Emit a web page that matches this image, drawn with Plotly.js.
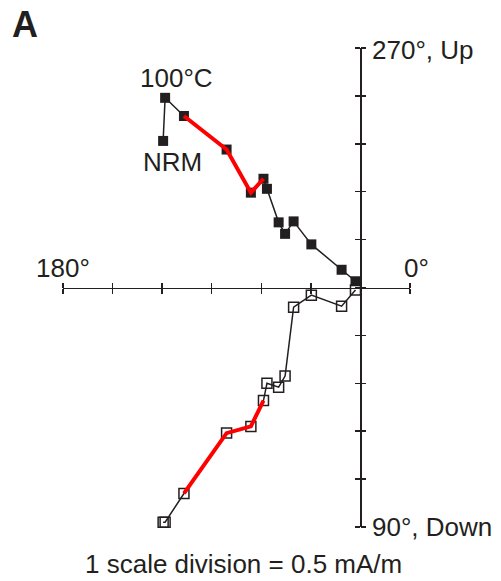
<!DOCTYPE html>
<html>
<head>
<meta charset="utf-8">
<script src="https://cdn.plot.ly/plotly-3.0.1.min.js"></script>
<style>html,body{margin:0;padding:0;background:#fff;}#chart{width:501px;height:581px;}</style>
</head>
<body>
<div id="chart"></div>
<script>
// Demagnetization steps (mA/m); first = NRM, second = 100°C
const north = [-1.99, -1.97, -1.78, -1.35, -1.105, -0.978, -0.943, -0.825, -0.76, -0.674, -0.495, -0.19, -0.05];
const west  = [1.53, 1.98, 1.79, 1.44, 0.99, 1.135, 1.03, 0.68, 0.56, 0.69, 0.45, 0.185, 0.065];
const down  = [2.45, 2.45, 2.15, 1.52, 1.45, 1.18, 1.00, 1.04, 0.925, 0.205, 0.08, 0.195, 0.025];
const fitStart = 2, fitEnd = 5;
const xRange = [-3.0, 0.5];
const yRange = [-2.5, 2.5];
const tickStep = 0.5;
const axisLabels = {left: '180°', right: '0°', top: '270°, Up', bottom: '90°, Down'};
const stepLabels = {first: 'NRM', second: '100°C'};
const panelLabel = 'A';
const scaleNote = '1 scale division = 0.5 mA/m';

const W = 501, H = 581;
const M = {l: 63, r: 91, t: 48, b: 54};
const pw = W - M.l - M.r, ph = H - M.t - M.b;
const px = x => (x - M.l) / pw;
const py = y => (H - M.b - y) / ph;

const ink = '#231f20';
const up = north.map((n, i) => west[i]);
const dn = down.map(d => -d);
const fitN = north.slice(fitStart, fitEnd + 1);

const traces = [
  {x: north, y: up, mode: 'lines+markers', line: {color: ink, width: 1.5},
   marker: {symbol: 'square', size: 10, color: ink}, cliponaxis: false, hoverinfo: 'skip'},
  {x: north, y: dn, mode: 'lines+markers', line: {color: ink, width: 1.5},
   marker: {symbol: 'square-open', size: 10, color: ink, line: {width: 1.5, color: ink}}, cliponaxis: false, hoverinfo: 'skip'},
  {x: fitN, y: up.slice(fitStart, fitEnd + 1), mode: 'lines', line: {color: '#ff0000', width: 4}, cliponaxis: false, hoverinfo: 'skip'},
  {x: fitN, y: dn.slice(fitStart, fitEnd + 1), mode: 'lines', line: {color: '#ff0000', width: 4}, cliponaxis: false, hoverinfo: 'skip'},
  {x: [0], y: [0], xaxis: 'x2', yaxis: 'y2', mode: 'markers', marker: {opacity: 0}, hoverinfo: 'skip', showlegend: false}
];

const xZeroPos = (0 - yRange[0]) / (yRange[1] - yRange[0]);
const yZeroPos = (0 - xRange[0]) / (xRange[1] - xRange[0]);

const axCommon = {showgrid: false, zeroline: false, ticklen: 5, tickwidth: 1.5, tickcolor: ink,
  tick0: 0, dtick: tickStep, showticklabels: false, fixedrange: true, anchor: 'free'};

const layout = {
  width: W, height: H, margin: M, showlegend: false,
  paper_bgcolor: '#fff', plot_bgcolor: 'rgba(0,0,0,0)',
  font: {family: 'Liberation Sans, Arial, sans-serif', color: ink, size: 26},
  xaxis: Object.assign({}, axCommon, {range: xRange, position: xZeroPos, side: 'bottom', ticks: 'outside',
    showline: true, linecolor: ink, linewidth: 1.5}),
  xaxis2: Object.assign({}, axCommon, {range: xRange, position: xZeroPos, side: 'top', ticks: 'outside',
    overlaying: 'x', showline: false}),
  yaxis: Object.assign({}, axCommon, {range: yRange, position: yZeroPos, side: 'left', ticks: 'outside',
    showline: true, linecolor: ink, linewidth: 1.5}),
  yaxis2: Object.assign({}, axCommon, {range: yRange, position: yZeroPos, side: 'right', ticks: 'outside',
    overlaying: 'y', showline: false}),
  annotations: [
    {text: '<b>' + panelLabel + '</b>', x: px(25), y: py(25), font: {size: 36}, xanchor: 'center', yanchor: 'middle'},
    {text: axisLabels.top, x: px(370), y: py(50), xanchor: 'left', yanchor: 'middle'},
    {text: axisLabels.bottom, x: px(370), y: py(527), xanchor: 'left', yanchor: 'middle'},
    {text: axisLabels.left, x: px(63), y: py(268), xanchor: 'center', yanchor: 'middle'},
    {text: axisLabels.right, x: px(417), y: py(268), xanchor: 'center', yanchor: 'middle'},
    {text: stepLabels.second, x: px(176), y: py(78), xanchor: 'center', yanchor: 'middle'},
    {text: stepLabels.first, x: px(172), y: py(162), xanchor: 'center', yanchor: 'middle'},
    {text: scaleNote, x: px(243), y: py(580), xanchor: 'center', yanchor: 'bottom', borderpad: 0, font: {size: 26}}
  ].map(a => Object.assign({xref: 'paper', yref: 'paper', showarrow: false}, a))
};

Plotly.newPlot('chart', traces, layout, {staticPlot: true, displayModeBar: false});
</script>
</body>
</html>
